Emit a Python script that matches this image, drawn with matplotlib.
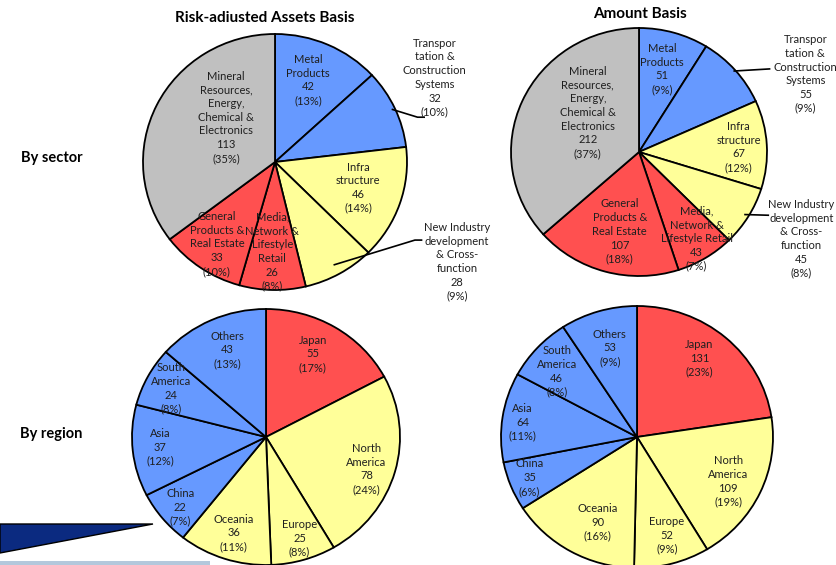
import numpy as np
import matplotlib
matplotlib.use("Agg")
import matplotlib.pyplot as plt
from matplotlib.patches import Polygon, Rectangle

plt.rcParams['font.family'] = ['Lato', 'DejaVu Sans']

# --- data ---
sector_rwa = [42, 32, 46, 28, 26, 33, 113]
sector_amt = [51, 55, 67, 45, 43, 107, 212]
sector_names_rwa = ["Metal\nProducts", "Transpor\ntation &\nConstruction\nSystems",
                    "Infra\nstructure", "New Industry\ndevelopment\n& Cross-\nfunction",
                    "Media,\nNetwork &\nLifestyle\nRetail", "General\nProducts &\nReal Estate",
                    "Mineral\nResources,\nEnergy,\nChemical &\nElectronics"]
sector_names_amt = ["Metal\nProducts", "Transpor\ntation &\nConstruction\nSystems",
                    "Infra\nstructure", "New Industry\ndevelopment\n& Cross-\nfunction",
                    "Media,\nNetwork &\nLifestyle Retail", "General\nProducts &\nReal Estate",
                    "Mineral\nResources,\nEnergy,\nChemical &\nElectronics"]

region_rwa = [55, 78, 25, 36, 22, 37, 24, 43]
region_amt = [131, 109, 52, 90, 35, 64, 46, 53]
region_names = ["Japan", "North\nAmerica", "Europe", "Oceania", "China", "Asia",
                "South\nAmerica", "Others"]

# --- styles ---
BLUE, YELLOW, RED, GREY = "#6699FF", "#FFFF99", "#FF5050", "#C0C0C0"
sector_colors = [BLUE, BLUE, YELLOW, YELLOW, RED, RED, GREY]
region_colors = [RED, YELLOW, YELLOW, YELLOW, BLUE, BLUE, BLUE, BLUE]
TXT = "#1f1f1f"

W, H = 836, 565
fig = plt.figure(figsize=(W / 100, H / 100), dpi=100)

# background decoration (pixel coords)
bg = fig.add_axes([0, 0, 1, 1])
bg.set_xlim(0, W)
bg.set_ylim(H, 0)
bg.axis("off")
bg.add_patch(Polygon([(0, 524), (153, 524), (0, 553)], closed=True,
                     facecolor="#0B2A80", edgecolor="black", lw=1.0))
bg.add_patch(Rectangle((0, 561), 210, 5, facecolor="#B4C8DC", edgecolor="none"))

fig.text(265 / W, 1 - 18 / H, "Risk-adiusted Assets Basis", ha="center", va="center",
         fontsize=11, fontweight="bold", color="black")
fig.text(640 / W, 1 - 14 / H, "Amount Basis", ha="center", va="center",
         fontsize=11, fontweight="bold", color="black")
fig.text(21 / W, 1 - 158 / H, "By sector", ha="left", va="center",
         fontsize=10.5, fontweight="bold", color="black")
fig.text(20 / W, 1 - 434 / H, "By region", ha="left", va="center",
         fontsize=10.5, fontweight="bold", color="black")


def pie_ax(cx, cy, rx, ry):
    # slightly oval pies, like the original slide
    return fig.add_axes([(cx - rx) / W, 1 - (cy + ry) / H, 2 * rx / W, 2 * ry / H])


def draw_pie(ax, values, names, colors, label_pos, leaders=None):
    total = sum(values)
    wedges, _ = ax.pie(values, colors=colors, startangle=90, counterclock=False,
                       wedgeprops=dict(edgecolor="black", linewidth=1.3, clip_on=False))
    ax.set_xlim(-1, 1)
    ax.set_ylim(-1, 1)
    ax.set_aspect("auto")
    ax.axis("off")
    for name, v, (x, y) in zip(names, values, label_pos):
        pct = int(v / total * 100 + 0.5)
        ax.text(x, y, f"{name}\n{v}\n({pct}%)", ha="center", va="center",
                fontsize=8, color=TXT, linespacing=1.3, clip_on=False)
    if leaders:
        for i, (r0, pts) in leaders.items():
            w = wedges[i]
            mid = np.deg2rad((w.theta1 + w.theta2) / 2)
            xs = [r0 * np.cos(mid)] + [p[0] for p in pts]
            ys = [r0 * np.sin(mid)] + [p[1] for p in pts]
            ax.plot(xs, ys, color="black", lw=1.2, clip_on=False)


# top-left: sector, risk-adjusted assets
ax1 = pie_ax(275, 162, 132, 128)
draw_pie(ax1, sector_rwa, sector_names_rwa, sector_colors,
         [(0.25, 0.64), (1.21, 0.66), (0.63, -0.20), (1.38, -0.78),
          (-0.02, -0.70), (-0.44, -0.64), (-0.37, 0.35)],
         leaders={1: (0.98, [(1.08, 0.35), (1.13, 0.35)]),
                  3: (0.92, [(1.06, -0.61), (1.11, -0.61)])})

# top-right: sector, amount
ax2 = pie_ax(639, 152, 128, 124)
draw_pie(ax2, sector_amt, sector_names_amt, sector_colors,
         [(0.18, 0.67), (1.30, 0.63), (0.78, 0.04), (1.27, -0.70),
          (0.45, -0.70), (-0.15, -0.64), (-0.40, 0.32)],
         leaders={1: (0.99, [(1.02, 0.67)]), 3: (0.97, [(1.01, -0.51)])})

# bottom-left: region, risk-adjusted assets
ax3 = pie_ax(266, 437, 134, 128)
draw_pie(ax3, region_rwa, region_names, region_colors,
         [(0.35, 0.65), (0.75, -0.25), (0.25, -0.79), (-0.24, -0.75),
          (-0.64, -0.55), (-0.79, -0.08), (-0.71, 0.38), (-0.29, 0.68)])

# bottom-right: region, amount
ax4 = pie_ax(637, 437, 136, 131)
draw_pie(ax4, region_amt, region_names, region_colors,
         [(0.46, 0.60), (0.67, -0.34), (0.22, -0.75), (-0.29, -0.65),
          (-0.79, -0.31), (-0.84, 0.11), (-0.59, 0.50), (-0.20, 0.68)])

fig.savefig("out.png", dpi=100)
